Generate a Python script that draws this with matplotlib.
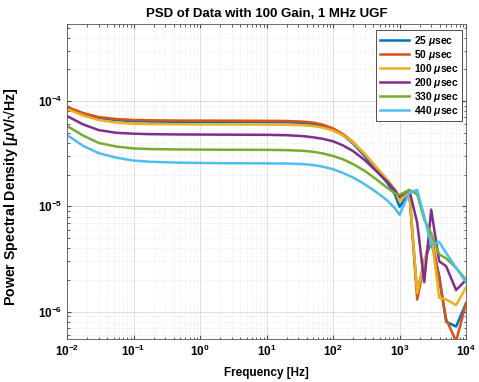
import math
import matplotlib
matplotlib.use('Agg')
import matplotlib.pyplot as plt
import matplotlib.ticker as mticker

plt.rcParams['font.family'] = ['Liberation Sans', 'DejaVu Sans']
plt.rcParams['font.weight'] = 'bold'
plt.rcParams['mathtext.fontset'] = 'custom'
plt.rcParams['mathtext.rm'] = 'Liberation Sans'
plt.rcParams['mathtext.it'] = 'Liberation Sans:italic'
plt.rcParams['mathtext.bf'] = 'Liberation Sans:bold'

# frequency points [Hz]
freq = [0.01, 0.0175, 0.03, 0.055, 0.1, 0.18, 0.5, 2, 10, 20, 35, 50, 70, 100, 140,
        200, 300, 450, 650, 850, 1000, 1400, 1840, 2350, 2990, 3940, 5010, 7080, 10000]

psd_25 = [8.6e-5, 7.55e-5, 6.9e-5, 6.6e-5, 6.45e-5, 6.4e-5, 6.36e-5, 6.35e-5, 6.33e-5,
          6.3e-5, 6.22e-5, 6.08e-5, 5.8e-5, 5.35e-5, 4.75e-5, 3.95e-5, 3.0e-5, 2.2e-5,
          1.68e-5, 1.3e-5, 9.9e-6, 1.35e-5, 1.5e-6, 3.0e-6, 4.6e-6, 2.2e-6, 8.0e-7, 7.2e-7, 1.2e-6]
psd_50 = [8.8e-5, 7.7e-5, 7.05e-5, 6.75e-5, 6.62e-5, 6.57e-5, 6.53e-5, 6.52e-5, 6.5e-5,
          6.47e-5, 6.38e-5, 6.25e-5, 5.98e-5, 5.5e-5, 4.88e-5, 4.08e-5, 3.12e-5, 2.3e-5,
          1.75e-5, 1.42e-5, 1.15e-5, 1.4e-5, 1.3e-6, 2.8e-6, 5.5e-6, 2.0e-6, 8.5e-7, 5.2e-7, 1.2e-6]
psd_100 = [8.4e-5, 7.3e-5, 6.6e-5, 6.25e-5, 6.1e-5, 6.05e-5, 6.02e-5, 6.0e-5, 5.99e-5,
           5.96e-5, 5.9e-5, 5.8e-5, 5.6e-5, 5.25e-5, 4.75e-5, 4.05e-5, 3.15e-5, 2.35e-5,
           1.8e-5, 1.45e-5, 1.12e-5, 1.4e-5, 1.5e-6, 3.0e-6, 5.6e-6, 1.35e-6, 1.3e-6, 1.15e-6, 1.7e-6]
psd_200 = [7.2e-5, 6.0e-5, 5.3e-5, 5.0e-5, 4.9e-5, 4.85e-5, 4.82e-5, 4.8e-5, 4.78e-5,
           4.74e-5, 4.65e-5, 4.53e-5, 4.38e-5, 4.15e-5, 3.8e-5, 3.35e-5, 2.75e-5, 2.15e-5,
           1.72e-5, 1.42e-5, 1.24e-5, 1.43e-5, 7.0e-6, 1.9e-6, 9.3e-6, 3.0e-6, 2.7e-6, 1.6e-6, 2.0e-6]
psd_330 = [5.8e-5, 4.7e-5, 4.0e-5, 3.7e-5, 3.55e-5, 3.5e-5, 3.47e-5, 3.45e-5, 3.44e-5,
           3.42e-5, 3.37e-5, 3.3e-5, 3.18e-5, 3.01e-5, 2.8e-5, 2.52e-5, 2.17e-5, 1.8e-5,
           1.5e-5, 1.33e-5, 1.29e-5, 1.43e-5, 1.3e-5, 7.5e-6, 5.5e-6, 3.5e-6, 3.2e-6, 2.6e-6, 2.0e-6]
psd_440 = [4.76e-5, 3.75e-5, 3.2e-5, 2.9e-5, 2.72e-5, 2.65e-5, 2.6e-5, 2.57e-5, 2.56e-5,
           2.55e-5, 2.52e-5, 2.47e-5, 2.38e-5, 2.25e-5, 2.08e-5, 1.88e-5, 1.62e-5, 1.36e-5,
           1.14e-5, 9.6e-6, 8.3e-6, 1.35e-5, 1.43e-5, 8.0e-6, 4.3e-6, 4.6e-6, 3.6e-6, 2.6e-6, 1.9e-6]

series = [psd_25, psd_50, psd_100, psd_200, psd_330, psd_440]
labels = ['25 $\\mu$sec', '50 $\\mu$sec', '100 $\\mu$sec', '200 $\\mu$sec',
          '330 $\\mu$sec', '440 $\\mu$sec']
colors = ['#0072BD', '#D95319', '#EDB120', '#7E2F8E', '#77AC30', '#4DBEEE']

xticks = [1e-2, 1e-1, 1e0, 1e1, 1e2, 1e3, 1e4]
yticks = [1e-6, 1e-5, 1e-4]

fig = plt.figure(figsize=(4.79, 3.82), dpi=100)
ax = fig.add_axes([0.140, 0.113, 0.833, 0.824])

for s, lab, c in zip(series, labels, colors):
    ax.loglog(freq, s, color=c, lw=1.8, label=lab)

ax.set_xlim(1e-2, 1e4)
ax.set_ylim(5.5e-7, 5.4e-4)

fmt = mticker.FuncFormatter(lambda v, p: r'$\mathbf{10^{%d}}$' % round(math.log10(v)))
ax.set_xticks(xticks)
ax.set_yticks(yticks)
ax.xaxis.set_major_formatter(fmt)
ax.yaxis.set_major_formatter(fmt)

ax.grid(True, which='major', color='#d9d9d9', lw=0.6)
ax.grid(True, which='minor', color='#e0e0e0', lw=0.5, ls=':')
ax.tick_params(which='both', direction='in', top=True, right=True, labelsize=8.5,
               color='#444444')
ax.tick_params(which='major', length=3)
ax.tick_params(which='minor', length=1.8, labelbottom=False, labelleft=False)
for sp in ax.spines.values():
    sp.set_color('#555555')
    sp.set_linewidth(0.6)

ax.set_title('PSD of Data with 100 Gain, 1 MHz UGF', fontsize=9.5, fontweight='bold', pad=5)
ax.set_xlabel('Frequency [Hz]', fontsize=8.5, fontweight='bold', labelpad=6)
ax.set_ylabel('Power Spectral Density [$\\mu$V/\u221aHz]', fontsize=10.2, fontweight='bold')
ax.yaxis.set_label_coords(-0.118, 0.45)

leg = ax.legend(loc='upper right', prop={'weight': 'bold', 'size': 7.4},
                handlelength=2.9, labelspacing=0.0, borderpad=0.35, handletextpad=0.4,
                borderaxespad=0, fancybox=False, framealpha=1, bbox_to_anchor=(0.99, 0.981))
leg.get_frame().set_edgecolor('#333333')
leg.get_frame().set_linewidth(0.6)

fig.savefig('out.png', dpi=100)
